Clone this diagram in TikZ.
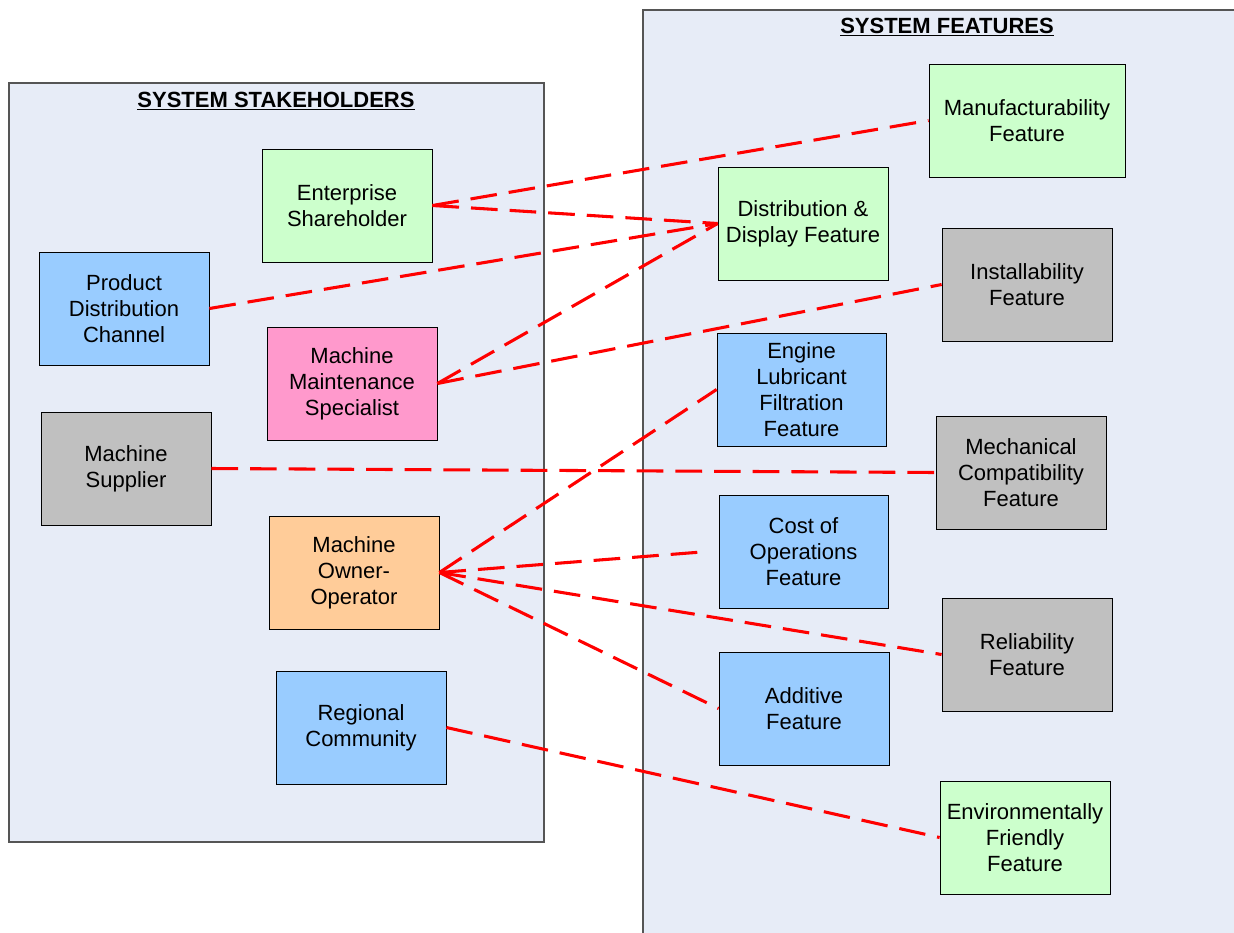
\documentclass[tikz,border=0pt]{standalone}
\usepackage{fontspec}
\setmainfont{Liberation Sans}
\begin{document}
\definecolor{panelfill}{HTML}{E7ECF7}
\definecolor{panelline}{HTML}{555555}
\definecolor{cgreen}{HTML}{CCFFCC}
\definecolor{cblue}{HTML}{99CCFF}
\definecolor{cpink}{HTML}{FF99CC}
\definecolor{cgray}{HTML}{C0C0C0}
\definecolor{corange}{HTML}{FFCC99}
\definecolor{linkred}{HTML}{FF0000}
\begin{tikzpicture}[x=0.75pt,y=-0.75pt,
  panel/.style={draw=panelline,fill=panelfill,line width=0.8pt},
  boxbase/.style={draw=black,line width=0.6pt,minimum width=127.5pt,minimum height=84.75pt,
    inner sep=0pt,align=center,font=\fontsize{16.5}{19.5}\selectfont},
  green/.style={boxbase,fill=cgreen},
  blue/.style={boxbase,fill=cblue},
  pink/.style={boxbase,fill=cpink},
  gray/.style={boxbase,fill=cgray},
  orange/.style={boxbase,fill=corange},
  title/.style={font=\fontsize{16.5}{19.5}\selectfont\bfseries,inner sep=0pt},
  link/.style={draw=linkred,line width=2.3pt,dash pattern=on 20pt off 9pt}]
\useasboundingbox (0,0) rectangle (1234,932);
\clip (0,0) rectangle (1234,932);

% panels
\draw[panel] (9,83) rectangle (544,842);
\draw[panel] (643,10) rectangle (1250,950);
\node[title] (ttlS) at (276,101) {\underline{SYSTEM STAKEHOLDERS}};
\node[title] (ttlF) at (947,27) {\underline{SYSTEM FEATURES}};

% stakeholders
\node[green]  (share)  at (347,205.5) {Enterprise\\Shareholder};
\node[blue]   (pdc)    at (124,308.5) {Product\\Distribution\\Channel};
\node[pink]   (maint)  at (352,383.5) {Machine\\Maintenance\\Specialist};
\node[gray]   (supp)   at (126,468.5) {Machine\\Supplier};
\node[orange] (owner)  at (354,572.5) {Machine\\Owner-\\Operator};
\node[blue]   (region) at (361,727.5) {Regional\\Community};

% features
\node[green,minimum width=147pt] (manu) at (1027,120.5) {Manufacturability\\Feature};
\node[green]  (dist)   at (803,223.5) {Distribution \&\\Display Feature};
\node[gray]   (inst)   at (1027,284.5) {Installability\\Feature};
\node[blue,minimum width=126.75pt] (eng) at (801.5,389.5) {Engine\\Lubricant\\Filtration\\Feature};
\node[gray]   (mech)   at (1021,472.5) {Mechanical\\Compatibility\\Feature};
\node[blue,minimum width=126.75pt] (cost) at (803.5,551.5) {Cost of\\Operations\\Feature};
\node[gray]   (rel)    at (1027,654.5) {Reliability\\Feature};
\node[blue]   (add)    at (804,708.5) {Additive\\Feature};
\node[green]  (env)    at (1025,837.5) {Environmentally\\Friendly\\Feature};

% links
\draw[link] (share.east) -- (manu.west);
\draw[link] (share.east) -- (dist.west);
\draw[link] (pdc.east) -- (dist.west);
\draw[link] (maint.east) -- (dist.west);
\draw[link] (maint.east) -- (inst.west);
\draw[link] (supp.east) -- (mech.west);
\draw[link] (owner.east) -- (eng.west);
\draw[link] (owner.east) -- ([xshift=-8pt]cost.west);
\draw[link] (owner.east) -- (rel.west);
\draw[link] (owner.east) -- (add.west);
\draw[link] (region.east) -- (env.west);
\end{tikzpicture}
\end{document}
